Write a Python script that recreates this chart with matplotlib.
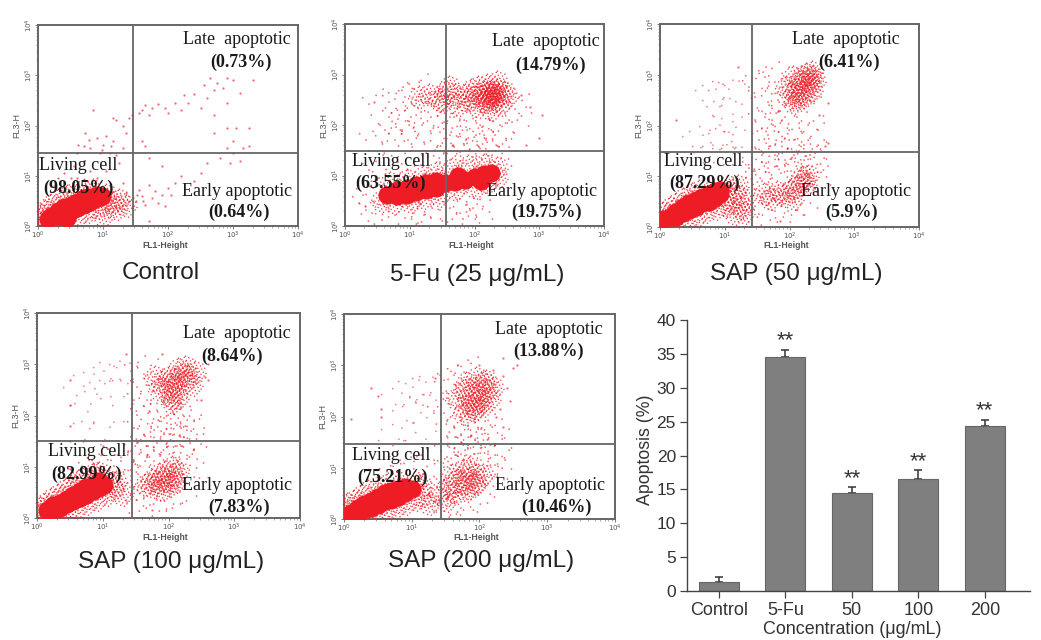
import numpy as np
import matplotlib
matplotlib.use("Agg")
import matplotlib.pyplot as plt
from matplotlib.path import Path
from matplotlib.ticker import LogLocator, NullFormatter

# ---- Bar chart data ----
groups = ["Control", "5-Fu", "50", "100", "200"]
apoptosis = [1.4, 34.5, 14.4, 16.5, 24.4]
apoptosis_err = [0.7, 1.1, 0.9, 1.3, 0.9]
stars = ["", "**", "**", "**", "**"]

# ---- Panel names and percentages ----
titles = ["Control", "5-Fu (25 μg/mL)", "SAP (50 μg/mL)", "SAP (100 μg/mL)", "SAP (200 μg/mL)"]
late_pct = ["(0.73%)", "(14.79%)", "(6.41%)", "(8.64%)", "(13.88%)"]
living_pct = ["(98.05%)", "(63.55%)", "(87.29%)", "(82.99%)", "(75.21%)"]
early_pct = ["(0.64%)", "(19.75%)", "(5.9%)", "(7.83%)", "(10.46%)"]

# ---- Events, as (log10 FL1, log10 FL3) ----
ctrl_core = [(.2,.2),(.3,.2),(.3,.3),(.4,.25),(.4,.38),(.5,.3),(.5,.42),(.6,.35),(.6,.48),(.7,.42),(.7,.55),
             (.8,.47),(.8,.58),(.9,.55),(.9,.62),(.15,.14),(.45,.15),(.98,.6)]
ctrl_mid = [(.05,.05),(.1,.3),(.05,.22),(.2,.42),(.3,.52),(.45,.6),(.55,.66),(.7,.72),(.85,.72),(.6,.18),(.75,.28),
            (.9,.36),(1.05,.4),(1.15,.45),(1.05,.62),(1.2,.33),(.3,.06),(.15,.06),(.02,.12),(1.0,.2),(1.25,.52),(1.35,.4)]
ctrl_sparse = [(.85,2.3),(.72,1.85),(.7,1.6),(.8,1.55),(.9,1.75),(.95,1.45),(1.0,1.62),(1.05,1.8),(1.1,1.45),(1.15,1.7),
 (1.2,1.42),(1.15,2.15),(1.2,2.1),(1.3,2.0),(1.4,2.15),(1.45,2.2),(1.55,2.25),(1.6,2.3),(1.65,2.4),(1.7,2.2),(1.75,2.35),
 (1.85,2.42),(1.95,2.35),(2.0,2.25),(2.1,2.45),(2.2,2.3),(2.25,2.6),(2.3,2.45),(2.4,2.62),(2.5,2.35),(2.55,2.8),(2.6,2.55),
 (2.65,2.95),(2.7,2.7),(2.75,2.85),(2.85,2.75),(2.9,2.95),(3.0,2.9),(3.1,2.65),(3.3,2.9),(2.7,2.2),(2.9,2.45),(2.7,1.85),
 (2.9,1.95),(3.0,1.7),(3.05,1.95),(3.15,1.55),(3.25,1.6),(3.25,1.95),(2.9,1.55),(3.0,1.45),(3.1,1.3),(2.95,1.25),
 (1.6,1.7),(1.65,1.6),(1.7,1.35),(1.9,1.2),(2.2,1.0),(2.4,.9),(2.5,1.05),(2.6,1.25),(2.8,1.35),(1.5,.5),(1.55,.72),
 (1.6,.6),(1.65,.42),(1.7,.82),(1.75,.55),(1.8,.7),(1.85,.46),(1.9,.62),(1.95,.4),(2.0,.75),(2.05,.62),(2.1,.85),
 (1.7,.1),(1.45,.35),(.4,1.05),(.55,1.2),(.6,.95),(.7,1.3),(.8,1.1),(.9,.95),(.4,.85),(.25,.8),(.6,1.45),(1.05,1.1),(1.25,1.25),
 (.62,1.62),(.78,1.72),(.98,1.52),(1.12,1.6),(1.3,1.55),(1.35,1.85),(1.52,.62),(1.62,.5),(1.4,.5),(1.35,.65),(1.3,.85),(.5,.95),(.3,.95)]

fu_core = [(.65,.62),(.8,.6),(.8,.72),(.95,.62),(.95,.75),(1.1,.68),(1.1,.82),(1.25,.72),(1.25,.85),(1.4,.75),(1.4,.9),
           (1.55,.85),(1.7,.88),(1.85,.92),(2.0,.98),(2.15,1.02),(2.25,1.05),(1.75,1.0),(2.1,.9)]
fu_mid = [(.55,.5),(.75,.45),(1.0,.48),(1.2,.55),(1.45,.6),(1.7,.72),(2.0,.75),(2.2,.85),(2.35,.95),(.7,.85),(.95,.92),
 (1.2,.98),(1.4,1.05),(1.65,1.12),(1.9,1.18),(2.15,1.2),(2.35,1.15),(1.85,2.6),(1.95,2.7),(2.05,2.75),(2.2,2.8),(2.35,2.85),(2.45,2.65),
 (2.5,2.55),(2.4,2.4),(2.25,2.3),(2.05,2.35),(1.9,2.45),(2.0,2.55),(1.7,2.6),(1.55,2.65),(1.3,2.6),(1.15,2.55),(1.45,2.5),(1.6,2.75),(1.5,2.45),(1.75,2.4),
 (2.22,2.55),(2.3,2.62),(2.18,2.45),(2.35,2.7),(2.12,2.58),(2.25,2.68),(2.32,2.5),(2.15,2.65),(2.28,2.58),(2.2,2.5),(2.38,2.6),(2.24,2.62)]
fu_sparse = [(.45,2.45),(.75,2.5),(.85,2.55),(1.0,2.6),(1.15,2.75),(1.25,2.3),(1.1,2.2),(.9,2.15),(.75,2.2),(.7,1.95),(.95,1.95),(1.15,2.0),
 (.4,1.75),(.65,1.7),(.85,1.75),(1.05,1.75),(1.3,1.7),(1.4,2.2),(1.55,2.3),(1.6,2.1),(1.7,2.2),(1.55,1.9),(1.7,1.85),(1.85,2.15),(1.95,2.0),
 (2.1,2.2),(2.2,2.0),(2.3,2.15),(2.55,2.3),(2.7,2.35),(2.65,2.1),(1.5,1.6),(1.6,1.5),(1.75,1.65),(1.85,1.5),(1.95,1.75),(2.0,1.55),(2.1,1.85),
 (2.15,1.6),(2.25,1.75),(2.35,1.45),(2.4,1.85),(1.55,1.3),(1.7,1.35),(1.9,1.35),(2.05,1.4),(2.2,1.35),(2.4,1.3),(2.45,1.6),
 (.4,.35),(.5,.3),(.65,.15),(.85,.25),(1.0,.2),(1.15,.3),(1.3,.25),(1.4,.2),(1.2,.1),(1.55,.35),(1.7,.4),(1.85,.3),(1.95,.45),(2.05,.4),(2.1,.25),(1.9,.18),
 (.3,.5),(.35,.65),(.6,1.0),(.45,1.15),(1.05,1.15),(.9,1.3),(1.25,1.25)]
fu_single = [(.45,2.45),(2.8,1.6),(3.0,1.75),(3.05,2.2),(2.85,2.35),(2.72,2.6)]

sap50_core = [(.15,.2),(.25,.2),(.25,.3),(.35,.28),(.35,.4),(.45,.33),(.45,.47),(.55,.4),(.55,.53),(.65,.47),(.65,.6),(.75,.5),(.75,.65),(.85,.57),(.85,.7),(.93,.65),(.93,.72),(.05,.15)]
sap50_mid = [(0,.05),(.1,.05),(.2,.05),(.05,.28),(.15,.38),(.25,.45),(.35,.55),(.5,.65),(.6,.7),(.4,.12),(.55,.2),(.7,.3),(.85,.35),(1.0,.42),(1.1,.5),
 (1.0,.6),(1.15,.66),(1.25,.38),(1.3,.55),(1.05,.8),(1.2,.8),(1.3,.28),(1.15,.25),
 (1.7,.55),(1.8,.68),(1.9,.62),(2.0,.7),(2.05,.55),(2.15,.9),(2.2,.98),(2.25,.85),(2.1,.78),(1.6,.65),(2.28,1.0),
 (2.2,2.95),(2.28,2.9),(2.35,2.95),(2.25,3.02),(2.15,2.85),(2.3,2.8),(2.4,2.88),(2.1,2.7),(2.2,2.65),(2.1,2.58),(2.0,2.65),(2.25,2.6),(2.35,2.7),(2.15,2.5),(2.05,2.45),(1.95,2.75),(2.05,2.95),(2.35,3.05)]
sap50_sparse = [(1.45,2.8),(1.55,2.6),(1.5,2.9),(1.7,3.0),(1.75,2.5),(1.85,2.9),(1.9,2.55),(1.7,2.2),(1.55,2.15),(1.65,2.0),(1.8,2.15),(1.9,2.3),(2.0,2.2),(2.2,2.2),(2.35,2.3),
 (1.6,1.75),(1.75,1.85),(1.85,1.65),(2.0,1.8),(2.05,1.6),(2.15,1.75),(2.3,1.65),(2.4,1.45),(1.5,1.4),(1.65,1.45),(1.85,1.45),(2.0,1.35),(2.15,1.45),(2.3,1.35),(2.4,1.8),
 (1.45,1.2),(1.5,1.0),(1.55,1.15),(1.65,.95),(1.75,1.2),(1.8,1.0),(1.95,1.1),(2.0,1.25),(2.1,1.15),(2.25,1.2),(2.35,1.25),(2.4,1.1),(2.45,.95),
 (1.5,.6),(1.55,.45),(1.6,.3),(1.75,.4),(1.85,.35),(1.95,.45),(2.05,.35),(2.15,.6),(2.25,.5),(1.4,.7),(1.3,.85),(1.4,.35)]
sap50_faint = [(.8,2.7),(.95,2.78),(1.05,2.75),(.7,2.6),(.9,2.6),(1.15,2.7),(.8,2.4),(1.1,2.3),(.95,2.1),(1.1,2.05),
 (.5,1.7),(.6,1.8),(.75,1.9),(.9,1.75),(1.0,1.85),(1.15,1.8),(1.25,1.6),(.65,1.5),(.8,1.5),(.95,1.45),(1.1,1.45),(1.3,1.45)]
sap50_single = [(1.2,3.15),(.25,2.1),(2.6,1.65),(2.55,1.6),(1.85,.12),(2.45,2.2),(2.6,2.45)]

sap100_core = [(.15,.15),(.25,.25),(.25,.15),(.35,.3),(.35,.2),(.45,.38),(.45,.28),(.55,.45),(.55,.33),(.65,.52),(.65,.4),(.75,.6),(.75,.45),(.85,.65),(.85,.52),(.95,.72),(.95,.58),(1.02,.65)]
sap100_mid = [(0,.1),(.05,.2),(.1,.02),(.2,.02),(.12,.28),(.22,.38),(.32,.45),(.42,.55),(.52,.62),(.62,.72),(.72,.78),(.85,.85),(.95,.88),(.45,.12),(.6,.2),(.75,.28),(.9,.35),(1.05,.45),(1.15,.55),(1.1,.72),(1.2,.7),(1.3,.45),
 (1.65,.65),(1.75,.75),(1.85,.68),(1.95,.75),(2.05,.8),(1.85,.85),(1.95,.9),(2.1,.7),(1.75,.6),(1.9,.55),(2.0,.62),(2.15,.9),(2.05,1.0),
 (2.1,2.7),(2.2,2.8),(2.15,2.9),(2.05,2.6),(2.0,2.75),(2.1,2.5),(2.0,2.45),(1.9,2.65),(2.25,2.65),(2.3,2.78),(2.25,2.95),(2.05,2.35),(2.15,2.35),(1.85,2.5),(2.35,2.6),(2.05,2.25),(1.8,2.75),(2.4,2.85)]
sap100_sparse = [(1.5,2.9),(1.6,2.6),(1.55,2.35),(1.7,2.85),(1.75,2.35),
 (1.6,2.05),(1.8,2.1),(1.9,2.15),(2.0,2.0),(2.05,1.9),(2.15,2.1),(2.2,1.85),(2.3,2.05),(1.55,1.8),(1.7,1.65),(1.85,1.75),(2.0,1.7),(2.15,1.65),(2.25,1.65),(2.35,1.75),(1.6,1.5),(1.75,1.45),(1.9,1.5),(2.05,1.5),(2.2,1.45),(2.4,1.5),
 (1.5,1.35),(1.55,1.15),(1.65,1.05),(1.75,1.25),(1.85,1.15),(1.95,1.25),(2.05,1.15),(2.15,1.3),(2.25,1.1),(2.3,.9),(2.35,1.2),(1.5,.85),(1.55,.6),(1.6,.4),(1.7,.45),(1.8,.3),(1.9,.4),(2.0,.4),(2.1,.45),(2.25,.55),
 (1.4,.6),(1.45,.35),(1.35,.8),(.8,1.0),(.95,1.1),(1.1,1.0),(1.25,1.05),(1.35,1.15),(.65,.88)]
sap100_faint = [(.7,2.7),(.85,2.75),(1.0,2.85),(1.1,2.95),(1.25,2.9),(1.35,2.85),(1.3,2.6),(1.1,2.6),(.95,2.55),(.55,2.45),(.75,2.3),(.65,2.1),(1.0,1.75),(.95,1.65),(.7,1.75),(1.3,2.1)]
sap100_single = [(.5,2.7),(.5,2.2),(.5,1.8),(1.35,3.2),(1.9,3.2),(2.6,3.0),(2.6,2.7),(2.55,2.75),(2.5,2.3),(1.75,.15),(.5,1.5),(.7,1.5),(1.0,1.4),(.5,.95)]

sap200_core = [(.1,.12),(.2,.1),(.2,.22),(.3,.17),(.3,.3),(.4,.22),(.4,.36),(.5,.28),(.5,.42),(.6,.35),(.6,.5),(.7,.38),(.7,.55),(.8,.42),(.8,.58),(.9,.5),(.9,.62),(1.0,.58)]
sap200_mid = [(0,.05),(0,.2),(.1,.02),(.3,.03),(.45,.1),(.6,.15),(.75,.22),(.9,.3),(1.05,.38),(1.15,.45),(1.15,.62),(1.05,.72),(.05,.3),(.15,.35),(.25,.45),(.35,.55),(.5,.62),(.65,.68),(.8,.72),
 (1.25,.3),(1.4,.5),(1.5,.35),
 (1.55,.6),(1.65,.75),(1.75,.7),(1.85,.78),(1.9,.65),(1.95,.85),(1.8,.55),(1.65,.5),(1.95,.68),(1.6,.85),(1.75,.95),(1.85,1.0),(2.05,.85),
 (1.95,2.55),(2.05,2.65),(2.0,2.4),(2.1,2.5),(1.9,2.25),(1.8,2.2),(1.9,2.1),(1.95,2.15),(2.0,2.3),(1.85,2.4),(1.75,2.5),(2.1,2.7),(2.2,2.55),(1.8,2.65),(1.65,2.35),(2.15,2.35),(1.75,2.05),(2.05,2.2),(1.95,2.75)]
sap200_sparse = [(1.4,2.1),(1.5,2.6),(1.55,2.75),(1.6,2.5),(1.7,2.85),(1.85,2.9),(1.55,2.1),
 (1.6,1.95),(1.7,1.85),(1.8,1.7),(1.9,1.85),(2.0,1.95),(2.1,1.8),(1.6,1.65),(1.7,1.5),(1.85,1.5),(1.95,1.65),(2.05,1.55),(2.2,1.7),(2.3,1.5),
 (1.5,1.35),(1.6,1.25),(1.7,1.35),(1.8,1.3),(1.9,1.4),(2.0,1.3),(2.1,1.2),(2.2,1.3),(2.3,1.1),(1.55,1.05),(1.65,1.1),(1.95,1.15),(2.1,1.0),(2.25,.9),(2.2,.75),
 (1.45,.65),(1.5,.25),(1.6,.3),(1.7,.35),(1.8,.25),(1.95,.42),(2.05,.55),(1.4,.4),(1.35,.5),(1.3,.7),(1.4,.2),(1.5,1.0),(1.55,.2),(.7,.9),(.85,.95),(1.0,1.0),(1.2,.9)]
sap200_faint = [(.7,2.35),(.85,2.45),(.95,2.6),(1.05,2.55),(1.15,2.65),(1.25,2.7),(1.1,2.3),(.9,2.15),(1.0,2.1),(1.2,2.2),(1.3,2.35),(.7,1.65),(.65,1.45),(.85,1.75),(1.05,1.45),(1.2,1.6)]
sap200_single = [(.4,2.55),(.5,2.4),(.55,2.15),(.55,2.0),(.1,1.95),(1.35,2.75),(2.0,3.0),(2.2,2.9),(2.35,3.15),(2.35,2.8),(2.4,2.55),(2.5,2.95),(2.45,2.3),(2.55,3.0),(2.3,2.15),(2.25,2.0),(2.35,1.8),(.5,.85)]

PANEL_CORE = [ctrl_core, fu_core, sap50_core, sap100_core, sap200_core]
PANEL_MID = [ctrl_mid, fu_mid, sap50_mid, sap100_mid, sap200_mid]
PANEL_SPARSE = [[], fu_sparse, sap50_sparse, sap100_sparse, sap200_sparse]
PANEL_FAINT = [[], [], sap50_faint, sap100_faint, sap200_faint]
PANEL_SINGLE = [ctrl_sparse, fu_single, sap50_single, sap100_single, sap200_single]

# ---- Stipple marker shapes (marker style only; the scale maps the events above) ----
STIPPLE_DENSE = [(-.82,.12),(-.7,-.35),(-.66,.48),(-.55,.02),(-.5,-.68),(-.44,.72),(-.4,.3),(-.36,-.22),(-.28,-.5),(-.24,.05),
 (-.2,.52),(-.15,-.82),(-.1,.85),(-.08,-.3),(-.04,.28),(.02,-.62),(.05,.05),(.08,.6),(.12,-.18),(.17,-.9),(.2,.35),(.24,-.42),
 (.28,.82),(.32,.1),(.38,-.7),(.42,.55),(.46,-.15),(.52,.28),(.56,-.48),(.62,.7),(.66,.02),(.72,-.3),(.78,.36),(.88,-.08),(-.62,-.12),(.0,.95),(-.92,-.1)]
STIPPLE_LOOSE = [(-.75,.3),(-.2,-.8),(.1,.45),(.7,-.35),(-.35,-.1),(.55,.85)]
STIPPLE_FAINT = [(-.7,.35),(.1,-.8),(.75,.45)]


def stipple(offsets, radius):
    circle = Path.unit_circle()
    parts = [Path(circle.vertices * radius + np.array(o), circle.codes) for o in offsets]
    return Path.make_compound_path(*parts)


MARK_DENSE = stipple(STIPPLE_DENSE, 0.062)
MARK_LOOSE = stipple(STIPPLE_LOOSE, 0.055)
MARK_FAINT = stipple(STIPPLE_FAINT, 0.06)

# ---- Layout in reference pixels (separate from the data) ----
W, H = 1041, 640
BOX = [(38, 298, 25, 226, 133, 153), (345, 604, 24, 226, 446, 151), (660, 919, 24, 227, 752, 152),
       (37, 300, 313, 518, 132, 441), (344, 615, 314, 519, 441, 444)]
TXT = [
 dict(late=(237,39), lp=(241,62), liv=(78,166), lvp=(78,188), early=(237,191), ep=(239,212), title=(161,273)),
 dict(late=(546,42), lp=(550,65), liv=(391,161), lvp=(391,183), early=(542,191), ep=(547,212), title=(477,275)),
 dict(late=(846,39), lp=(849,62), liv=(703,161), lvp=(704,183), early=(856,191), ep=(852,212), title=(796,274)),
 dict(late=(237,334), lp=(232,356), liv=(87,452), lvp=(87,474), early=(237,486), ep=(239,507), title=(171,562)),
 dict(late=(549,329), lp=(549,351), liv=(391,455), lvp=(392,477), early=(550,486), ep=(556,507), title=(481,561)),
]
RED = "#ee1c25"
GREY = "#666666"
SERIF = "Liberation Serif"
SANS = "Liberation Sans"

fig = plt.figure(figsize=(W / 100, H / 100), dpi=100, facecolor="white")


def put(xy, s, **kw):
    fig.text(xy[0] / W, 1 - xy[1] / H, s, ha="center", va="center", **kw)


def draw(ax, pts, **kw):
    if pts:
        arr = np.array(pts)
        ax.scatter(10 ** arr[:, 0], 10 ** arr[:, 1], color=RED, linewidths=0, **kw)


for i, (x0, x1, y0, y1, gx, gy) in enumerate(BOX):
    ax = fig.add_axes([x0 / W, 1 - y1 / H, (x1 - x0) / W, (y1 - y0) / H])
    ax.set_xscale("log")
    ax.set_yscale("log")
    ax.set_xlim(1, 1e4)
    ax.set_ylim(1, 1e4)
    draw(ax, PANEL_SINGLE[i], s=2.6, alpha=0.65, zorder=2)
    draw(ax, PANEL_FAINT[i], marker=MARK_FAINT, s=300, alpha=0.6, zorder=2)
    draw(ax, PANEL_SPARSE[i], marker=MARK_LOOSE, s=420, alpha=0.7, zorder=2)
    draw(ax, PANEL_MID[i], marker=MARK_DENSE, s=300, alpha=0.85, zorder=3)
    draw(ax, PANEL_CORE[i], s=170, zorder=4)
    gate_x = 10 ** ((gx - x0) / (x1 - x0) * 4)
    gate_y = 10 ** ((y1 - gy) / (y1 - y0) * 4)
    ax.axvline(gate_x, color=GREY, lw=1.3, zorder=5)
    ax.axhline(gate_y, color=GREY, lw=1.3, zorder=5)
    for s in ax.spines.values():
        s.set_color(GREY)
        s.set_linewidth(1.4)
    for axis in (ax.xaxis, ax.yaxis):
        axis.set_major_locator(LogLocator(base=10, numticks=6))
        axis.set_minor_locator(LogLocator(base=10, subs=np.arange(2, 10) / 1.0, numticks=6))
        axis.set_minor_formatter(NullFormatter())
    ax.tick_params(which="major", length=2, width=0.6, color=GREY, labelsize=5, labelcolor="#555555", pad=0.5)
    ax.tick_params(which="minor", length=1.2, width=0.4, color=GREY)
    plt.setp(ax.get_yticklabels(), rotation=90, va="center")
    put(((x0 + x1) / 2 - 3, y1 + 19), "FL1-Height", fontsize=6.2, color="#555555", family=SANS, weight="bold")
    put((x0 - 21, (y0 + y1) / 2), "FL3-H", fontsize=6.5, color="#555555", family=SANS, rotation=90)

    t = TXT[i]
    ink = "#1a1a1a"
    put(t["late"], "Late  apoptotic", fontsize=13, family=SERIF, color=ink, zorder=9)
    put(t["lp"], late_pct[i], fontsize=13, family=SERIF, weight="bold", color=ink, zorder=9)
    put(t["liv"], "Living cell", fontsize=13, family=SERIF, color=ink, zorder=9)
    put(t["lvp"], living_pct[i], fontsize=13, family=SERIF, weight="bold", color=ink, zorder=9)
    put(t["early"], "Early apoptotic", fontsize=13, family=SERIF, color=ink, zorder=9)
    put(t["ep"], early_pct[i], fontsize=13, family=SERIF, weight="bold", color=ink, zorder=9)
    put(t["title"], titles[i], fontsize=17.5, family=SANS, color="#222222")

# ---- Bar chart ----
bx = fig.add_axes([687 / W, 1 - 591 / H, (1030 - 687) / W, (591 - 320) / H])
pos = np.arange(len(groups))
bx.bar(pos, apoptosis, width=0.6, color="#7f7f7f", edgecolor="#666666", linewidth=0.8, zorder=2)
bx.errorbar(pos, apoptosis, yerr=[np.zeros(len(pos)), apoptosis_err], fmt="none", ecolor="#333333",
            elinewidth=1.1, capsize=2.6, capthick=1.1, zorder=1)
for p, v, e, s in zip(pos, apoptosis, apoptosis_err, stars):
    if s:
        bx.annotate(s, (p, v + e), xytext=(0, -1), textcoords="offset points", ha="center", va="bottom",
                    fontsize=16, family=SANS, color="#333333")
bx.set_xlim(-0.48, 4.68)
bx.set_ylim(0, 40)
bx.set_yticks(np.arange(0, 41, 5))
bx.set_xticks(pos)
bx.set_xticklabels(groups)
for side in ("top", "right"):
    bx.spines[side].set_visible(False)
for side in ("left", "bottom"):
    bx.spines[side].set_color("#444444")
    bx.spines[side].set_linewidth(1.0)
bx.tick_params(length=5, width=0.9, color="#444444", labelcolor="#333333", pad=3)
bx.tick_params(axis="x", labelsize=13)
bx.tick_params(axis="y", labelsize=12.5)
for lab in bx.get_xticklabels() + bx.get_yticklabels():
    lab.set_family(SANS)
put((645, 450), "Apoptosis (%)", fontsize=12.8, family=SANS, color="#333333", rotation=90)
put((852, 630), "Concentration (μg/mL)", fontsize=12.9, family=SANS, color="#333333")

fig.savefig("out.png", dpi=100)
